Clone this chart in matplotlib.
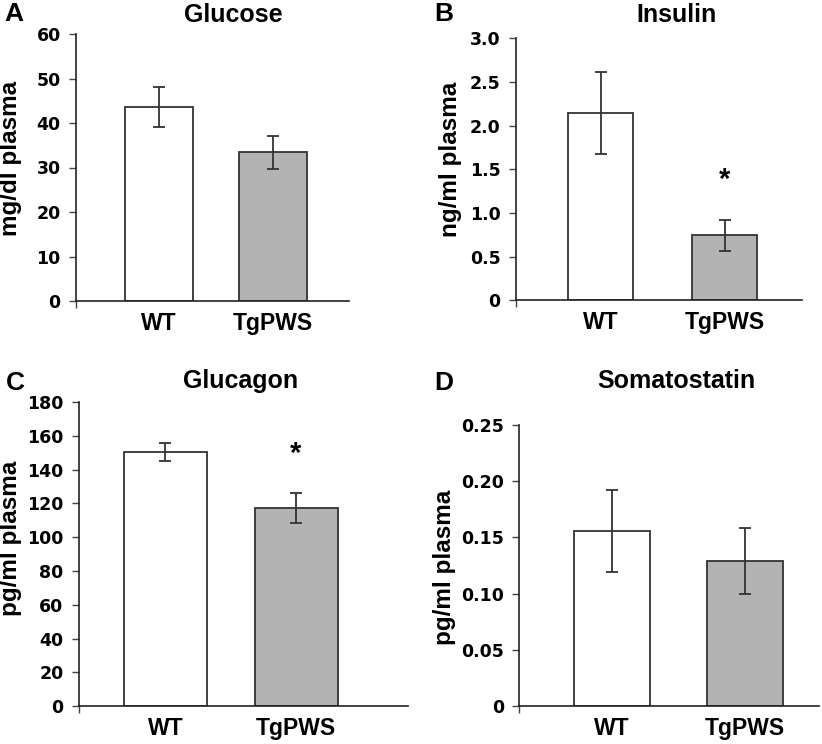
import matplotlib.pyplot as plt

groups = ['WT', 'TgPWS']
bar_colors = ['white', '#b3b3b3']

titles = ['Glucose', 'Insulin', 'Glucagon', 'Somatostatin']
letters = ['A', 'B', 'C', 'D']
ylabels = ['mg/dl plasma', 'ng/ml plasma', 'pg/ml plasma', 'pg/ml plasma']

glucose = [43.7, 33.4]
glucose_err = [4.5, 3.7]
insulin = [2.14, 0.745]
insulin_err = [0.47, 0.18]
glucagon = [150.4, 117.3]
glucagon_err = [5.5, 8.6]
somatostatin = [0.1556, 0.129]
somatostatin_err = [0.036, 0.029]

yticks = [
    [0, 10, 20, 30, 40, 50, 60],
    [0, 0.5, 1.0, 1.5, 2.0, 2.5, 3.0],
    [0, 20, 40, 60, 80, 100, 120, 140, 160, 180],
    [0, 0.05, 0.10, 0.15, 0.20, 0.25],
]
yticklabels = [
    ['0', '10', '20', '30', '40', '50', '60'],
    ['0', '0.5', '1.0', '1.5', '2.0', '2.5', '3.0'],
    ['0', '20', '40', '60', '80', '100', '120', '140', '160', '180'],
    ['0', '0.05', '0.10', '0.15', '0.20', '0.25'],
]
# significance stars: panel index -> y value
stars = {1: 1.38, 2: 149}

values = [glucose, insulin, glucagon, somatostatin]
errors = [glucose_err, insulin_err, glucagon_err, somatostatin_err]

W, H = 822, 744
fig = plt.figure(figsize=(W / 100, H / 100), dpi=100)

# axes boxes in pixels: left, right, bottom (zero line), top
boxes = [
    (76, 349, 301, 34),
    (516, 802, 300.3, 38.3),
    (78.7, 408, 706.3, 402),
    (519.3, 819, 706.3, 424.7),
]
xlims = [(-0.731, 1.673), (-0.681, 1.623), (-0.665, 1.858), (-0.695, 1.556)]
bar_w = [0.6, 0.529, 0.636, 0.573]
title_pos = [(233.5, 15), (676, 15), (240.5, 381), (676, 381)]
letter_pos = [(14, 14), (444, 14), (15, 383), (444, 383)]
ylab_pos = [(11, 158), (450, 159), (11, 538), (445, 567)]

font = 'Liberation Sans'
edge = '#333333'

for i in range(4):
    l, r, b, t = boxes[i]
    ax = fig.add_axes([l / W, (H - b) / H, (r - l) / W, (b - t) / H])
    ax.bar([0, 1], values[i], width=bar_w[i], color=bar_colors,
           edgecolor=edge, linewidth=1.3, zorder=2)
    ax.errorbar([0, 1], values[i], yerr=errors[i], fmt='none',
                ecolor=edge, elinewidth=1.3, capsize=4, capthick=1.3, zorder=3)
    ax.set_xlim(*xlims[i])
    ax.set_ylim(yticks[i][0], yticks[i][-1])
    ax.set_yticks(yticks[i])
    ax.set_yticklabels(yticklabels[i], fontfamily='DejaVu Sans',
                       fontweight='bold', fontsize=12.5)
    ax.set_xticks([0, 1])
    ax.set_xticklabels(groups, fontfamily=font, fontweight='bold', fontsize=16.5)
    ax.set_xticks([xlims[i][0]], minor=True)
    ax.tick_params(axis='x', which='major', length=0, pad=8)
    ax.tick_params(axis='x', which='minor', length=5, width=1, color='#444444')
    ax.tick_params(axis='y', length=5, width=1, color='#444444', pad=6)
    for s in ('top', 'right'):
        ax.spines[s].set_visible(False)
    for s in ('left', 'bottom'):
        ax.spines[s].set_color('#222222')
        ax.spines[s].set_linewidth(1.2)
    if i in stars:
        ax.text(1, stars[i], '*', ha='center', va='center',
                fontfamily=font, fontweight='bold', fontsize=21)

    fig.text(title_pos[i][0] / W, 1 - title_pos[i][1] / H, titles[i],
             ha='center', va='center', fontfamily=font, fontweight='bold',
             fontsize=18)
    fig.text(letter_pos[i][0] / W, 1 - letter_pos[i][1] / H, letters[i],
             ha='center', va='center', fontfamily=font, fontweight='bold',
             fontsize=19)
    fig.text(ylab_pos[i][0] / W, 1 - ylab_pos[i][1] / H, ylabels[i],
             ha='center', va='center', rotation=90, fontfamily=font,
             fontweight='bold', fontsize=17.5)

fig.savefig('out.png', dpi=100)
